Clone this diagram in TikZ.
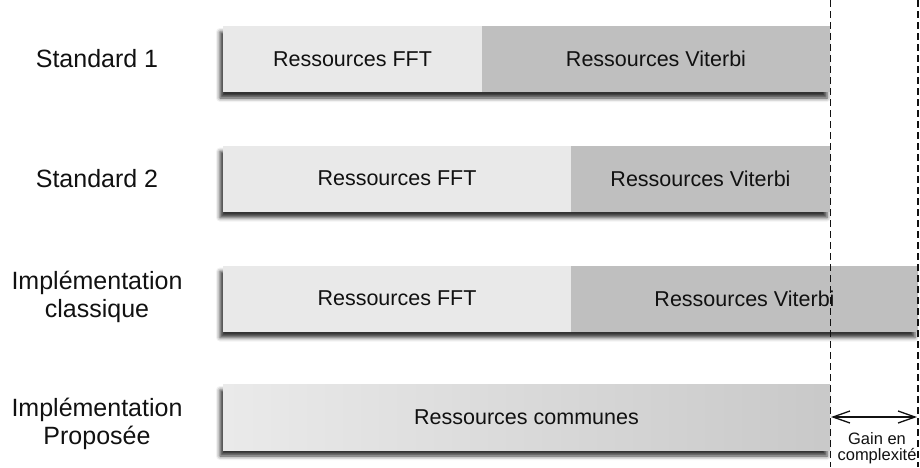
\documentclass[tikz,border=0pt]{standalone}
\usepackage{fontspec}
\setmainfont{Liberation Sans}
\usetikzlibrary{shadows.blur,arrows.meta}
\pgfdeclarelayer{bg}
\pgfsetlayers{bg,main}
\definecolor{lightres}{HTML}{E9E9E9}
\definecolor{darkres}{HTML}{BFBFBF}
\definecolor{txt}{HTML}{111111}
\tikzset{
  barpart/.style={anchor=north west, inner sep=0pt, outer sep=0pt, minimum height=66pt,
    text=txt, font=\fontsize{21.5}{24}\selectfont},
  lightpart/.style={barpart, fill=lightres},
  darkpart/.style={barpart, fill=darkres},
  rowlabel/.style={align=center, text=txt, font=\fontsize{25}{28}\selectfont},
  barshadow/.style={blur shadow={shadow xshift=-3pt, shadow yshift=-6pt, shadow blur radius=4pt, shadow opacity=80}},
  limitline/.style={line width=1.4pt, dash pattern=on 7pt off 4pt, color=txt},
  gainarrow/.style={line width=1.3pt, color=txt, {Straight Barb[length=17pt,width=12pt]}-{Straight Barb[length=17pt,width=12pt]}},
}
\begin{document}
\begin{tikzpicture}[x=1pt,y=-1pt]
\useasboundingbox (0,0) rectangle (920,467);
% labels
\node[rowlabel] (l1) at (97,59) {Standard 1};
\node[rowlabel] (l2) at (97,179) {Standard 2};
\node[rowlabel] (l3) at (97,297) {Implémentation\\classique};
\node[rowlabel] (l4) at (97,424) {Implémentation\\Proposée};
% row 1
\node[lightpart, minimum width=259pt] (fft1) at (223,26) {Ressources FFT};
\node[darkpart, minimum width=348pt] (vit1) at (482,26) {Ressources Viterbi};
% row 2
\node[lightpart, minimum width=348pt] (fft2) at (223,145.5) {Ressources FFT};
\node[darkpart, minimum width=259pt] (vit2) at (571,145.5) {Ressources Viterbi};
% row 3
\node[lightpart, minimum width=348pt] (fft3) at (223,265.5) {Ressources FFT};
\node[darkpart, minimum width=347pt] (vit3) at (571,265.5) {Ressources Viterbi};
% row 4
\node[barpart, minimum width=607pt, left color=lightres!95!white, right color=darkres!85!white] (com) at (223,384) {Ressources communes};
% shadows
\begin{pgfonlayer}{bg}
\path[barshadow] (fft1.north west) rectangle (vit1.south east);
\path[barshadow] (fft2.north west) rectangle (vit2.south east);
\path[barshadow] (fft3.north west) rectangle (vit3.south east);
\path[barshadow] (com.north west) rectangle (com.south east);
\end{pgfonlayer}
% limit lines
\coordinate (d1t) at (830.5,0);
\coordinate (d1b) at (830.5,467);
\coordinate (d2t) at (917.8,0);
\coordinate (d2b) at (917.8,467);
\draw[limitline] (d1t) -- (d1b);
\draw[limitline, line width=2pt] (d2t) -- (d2b);
% gain
\coordinate (ga) at (831,417);
\coordinate (gb) at (917,417);
\draw[gainarrow] (ga) -- (gb);
\node[align=center, text=txt, font=\fontsize{16.5}{16}\selectfont] (gain) at (877,448) {Gain en\\complexité};
\end{tikzpicture}
\end{document}
